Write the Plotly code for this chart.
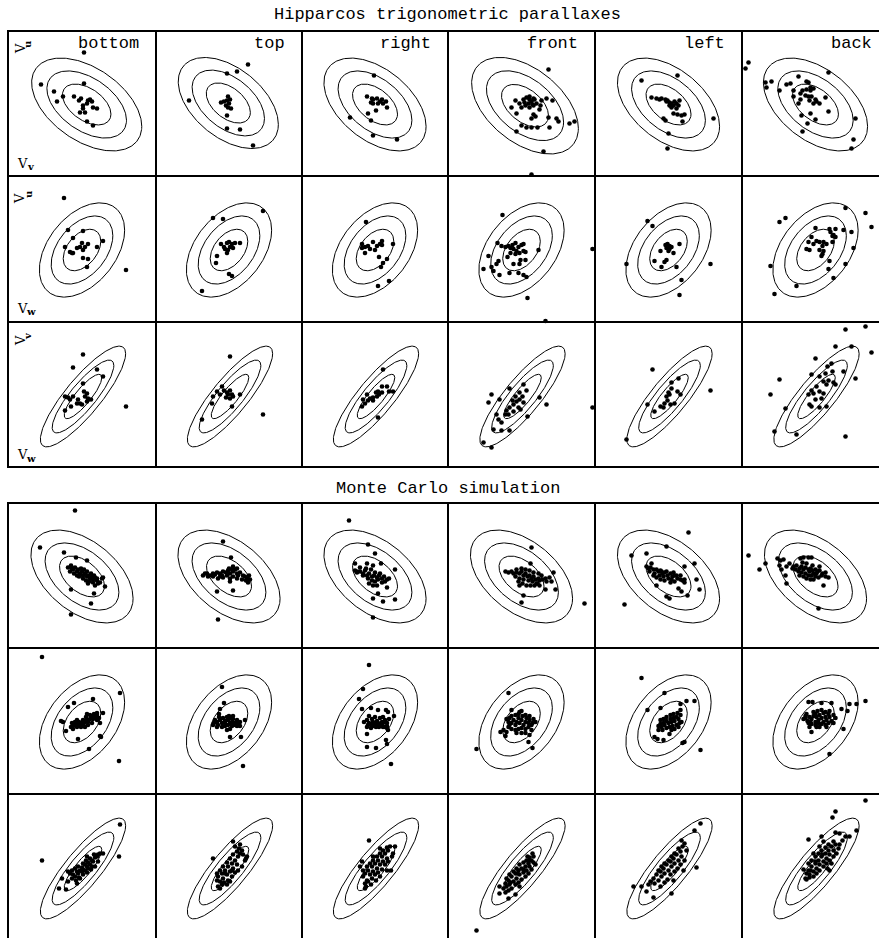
import numpy as np
import plotly.graph_objects as go

W, H = 879, 938

subsamples = ["bottom", "top", "right", "front", "left", "back"]

# probability contours of a 2-D Gaussian: 68.3 %, 95.4 %, 99.73 %
levels = [1.515, 2.486, 3.439]

# velocity-ellipse parameters for each panel row (horizontal sigma, vertical sigma, correlation)
row_sigma_x = [14.85, 12.4, 12.4]
row_sigma_y = [13.5, 13.7, 14.65]
row_rho = [-0.47, 0.42, 0.85]
row_center_x = [0.0, 0.0, 1.0]
row_center_y = [-1.0, -1.0, -2.0]

# subsample-specific ellipse corrections for the Hipparcos V_v-V_u row
hip_vu_shift_x = [4.7, -0.7, 0.0, 3.5, 0.0, 0.0]
hip_vu_shift_y = [0.0, 1.5, 0.0, -1.2, 0.0, 0.0]
hip_vu_scale_x = [1.078, 0.98, 1.0, 1.045, 1.0, 1.02]
hip_vu_scale_y = [1.0, 0.98, 1.0, 1.04, 1.0, 1.0]

# ---------------- Hipparcos trigonometric parallaxes ----------------
# row 1: V_v (horizontal) vs V_u (vertical)
hip_vu_bottom = [(2, 51), (-41, 19), (-28, 12), (-19, 7), (-25, 2), (-8, 7), (-3, 3), (-1, 5), (2, 20),
                 (6, 3), (8, 4), (10, 2), (5, 0), (11, -4), (15, -5), (1, -5), (-2, -9), (3, -9), (1, -2),
                 (5, -18), (11, -22)]
hip_vu_top = [(19, 39), (8, 32), (-2, 30), (-40, 3), (-1, 7), (1, 4), (-2, 3), (-5, 2), (-8, 1), (0, 0),
              (-3, -2), (2, -5), (-1, -4), (-2, -12), (-2, -25), (11, -26), (24, -42)]
hip_vu_right = [(-1, 28), (-8, 7), (-3, 5), (-2, 4), (2, 5), (5, 2), (7, 4), (-2, 0), (-4, 1), (3, 0),
                (8, 0), (11, 2), (12, -4), (1, -7), (-7, -10), (-25, -14), (-4, -17), (-2, -32), (22, -36)]
hip_vu_front = [(27, 34), (-6, 3), (-2, 0), (2, 4), (5, 6), (8, 7), (12, 5), (10, 2), (13, 4), (7, 0),
                (4, -2), (12, -2), (15, 0), (20, 3), (25, 5), (31, 3), (19, -2), (-10, -4), (0, -4),
                (8, -4), (18, -6), (-5, -10), (12, -11), (14, -13), (10, -15), (27, -14), (35, -15),
                (0, -22), (5, -24), (10, -24), (16, -24), (28, -24), (37, -18), (48, -20), (53, -18),
                (-5, -28), (22, -48), (10, -71), (3, 1), (8, 4), (11, -1)]
hip_vu_left = [(9, 28), (-27, 23), (-17, 6), (-12, 5), (-9, 4), (-7, 5), (-3, 4), (-1, 3), (-2, 2), (1, 1),
               (3, 0), (1, -2), (5, -2), (8, 0), (10, -2), (6, 2), (11, 3), (3, -4), (8, -5), (5, -10),
               (9, -11), (13, -12), (16, -11), (-5, -15), (-3, -17), (14, -18), (45, -15), (0, -30),
               (-1, -45)]
hip_vu_back = [(-70, 35), (-67, 41), (13, 31), (-50, 21), (-49, 16), (-44, 22), (-29, 19), (-25, 20),
               (-17, 27), (-9, 22), (-7, 21), (-22, 13), (-15, 10), (-13, 13), (-9, 14), (-5, 16), (-2, 15),
               (-5, 13), (-10, 8), (-7, 7), (-4, 7), (0, 4), (1, 2), (4, 0), (-2, 0), (-6, 3), (-15, 4),
               (-17, 0), (-22, 7), (-36, 13), (10, 6), (13, -8), (-14, -12), (-5, -10), (0, -16),
               (-8, -20), (-13, -28), (40, -15), (38, -36), (36, -45)]

# row 2: V_w (horizontal) vs V_u (vertical)
hip_wu_bottom = [(-18, 51), (-14, 19), (1, 18), (-9, 11), (-17, 2), (-12, -3), (-9, -4), (-5, 1), (-2, 2),
                 (0, 6), (3, 2), (6, 5), (1, -1), (15, 2), (21, 8), (1, -9), (6, -10), (5, -18), (44, -21),
                 (-10, -4)]
hip_wu_top = [(-16, 31), (-6, 30), (34, 38), (-8, 5), (-5, 2), (-2, 6), (0, 7), (3, 5), (1, 2), (4, 1),
              (6, 6), (11, 6), (-1, -1), (-4, 0), (-2, -4), (-12, -7), (-13, -14), (0, -25), (3, -27),
              (-27, -42)]
hip_wu_right = [(-9, 27), (-13, 5), (-10, 2), (-7, 3), (-13, 1), (-10, -4), (-5, 0), (-2, 7), (0, -1),
                (2, 3), (5, 5), (7, 8), (7, 4), (18, 5), (4, -8), (12, -10), (8, -14), (6, -18), (3, -37),
                (14, -32)]
hip_wu_front = [(-19, 34), (-24, 6), (-20, 3), (-16, 2), (-13, 3), (-11, 1), (-9, 4), (-6, 6), (-8, 0),
                (-5, -2), (-3, 2), (0, 4), (2, 5), (2, -2), (4, -3), (-2, -4), (-6, -5), (-11, -4),
                (-14, -8), (17, -1), (-33, -7), (-23, -12), (-25, -15), (-30, -18), (-38, -20), (-28, -22),
                (-22, -26), (-12, -24), (-8, -15), (-1, -11), (-2, -15), (4, -11), (-3, -24), (2, -26),
                (5, -28), (6, -49), (24, -72), (71, 0)]
hip_wu_left = [(-21, 28), (-16, 23), (-42, -15), (-1, 5), (1, 3), (-2, 1), (1, 0), (0, -2), (3, 2),
               (-3, 4), (11, 5), (-8, -2), (5, -4), (-14, -12), (-2, -11), (-4, -13), (-7, -18), (8, -18),
               (42, -15), (13, -31), (11, -46)]
hip_wu_back = [(-36, 27), (-30, 31), (50, 36), (56, 22), (30, 41), (0, 21), (14, 20), (20, 20), (15, 17),
               (18, 14), (20, 12), (17, 13), (28, 19), (36, 17), (-4, 12), (-7, 7), (-2, 5), (1, 8), (4, 7),
               (8, 7), (11, 5), (7, 3), (-9, 0), (-6, -1), (4, -1), (8, -2), (17, 7), (6, -7), (14, -12),
               (-45, -17), (13, -20), (30, -15), (38, 1), (18, -29), (-19, -37), (-41, -45), (7, -5)]

# row 3: V_w (horizontal) vs V_v (vertical)
hip_wv_bottom = [(1, 40), (-9, 27), (15, 25), (21, 18), (1, 11), (-17, -2), (-14, -3), (-12, -5), (-9, -2),
                 (-4, -5), (-2, -9), (2, 3), (5, 1), (3, -2), (6, -4), (5, -7), (9, -5), (-5, -9), (0, -10),
                 (-11, -12), (-17, -16), (44, -12)]
hip_wv_top = [(1, 38), (-7, 8), (-12, 3), (-9, 0), (-5, 4), (-2, 2), (1, 4), (-1, 0), (3, 0), (4, -2),
              (1, -4), (-3, -3), (11, 0), (-16, -2), (-17, -9), (3, -12), (-27, -25), (34, -20)]
hip_wv_right = [(8, 25), (-8, 0), (-12, -5), (-13, -12), (-10, -9), (-7, -6), (-5, -4), (-2, -3), (-2, -6),
                (1, 2), (3, 3), (4, 0), (2, -2), (7, 2), (7, 8), (12, 8), (14, 3), (18, 3), (3, -23)]
hip_wv_front = [(-12, 6), (-30, 0), (-33, -8), (-22, -5), (2, 10), (5, 4), (-2, 2), (-6, -2), (-9, -6),
                (-5, -7), (-2, -5), (1, -2), (2, -8), (-8, -10), (-12, -13), (-15, -16), (-16, -20),
                (-13, -20), (-8, -17), (-3, -13), (-1, -15), (18, -3), (25, -10), (6, -22), (-25, -20),
                (-23, -25), (-20, -28), (-28, -35), (-20, -36), (-12, -36), (-38, -48), (-30, -53), (71, -13)]
hip_wv_left = [(-16, 25), (10, 16), (3, 12), (3, 6), (0, 2), (-2, -2), (1, 0), (-1, -6), (-4, -9),
               (-5, -13), (-8, -12), (2, -10), (6, -9), (9, 3), (12, 0), (-14, -17), (-21, -10), (42, 4),
               (-42, -45)]
hip_wv_back = [(30, 65), (50, 68), (56, 42), (20, 48), (36, 48), (0, 36), (16, 31), (12, 28), (10, 21),
               (17, 23), (28, 23), (-4, 20), (4, 18), (8, 13), (13, 14), (18, 12), (20, 10), (11, 10),
               (1, 8), (-4, 4), (-7, 0), (-2, 1), (4, 3), (8, 1), (6, -4), (0, -5), (-6, -10), (-4, -12),
               (4, -13), (11, -12), (40, 16), (-36, 15), (-45, 0), (-30, -14), (-41, -37), (-19, -40),
               (30, -42)]

# ---------------- Monte Carlo simulation ----------------
mc_vu_bottom = [(-7, 65), (-42, 28), (-18, 23), (-6, 18), (5, 15), (-11, -14), (9, -28), (-11, -39),
                (12, -18), (23, -11), (21, -2), (-14, 8), (-11, 10), (-10, 7), (-9, 6), (-7, 8), (-5, 4),
                (-4, 6), (-2, 2), (0, 4), (1, 0), (3, 2), (5, -1), (6, 0), (8, -3), (10, -1), (11, -4),
                (13, -2), (15, -5), (-8, 2), (-3, -1), (1, -3), (4, -5), (7, -6), (11, -7), (-1, 7),
                (2, 6), (5, 4), (9, 2), (12, 0), (15, -3), (18, -7), (-5, 0), (-12, 4), (16, -8), (6, -8),
                (13, -10), (20, -3)]
mc_vu_top = [(-6, 34), (2, 18), (-12, -16), (4, -15), (18, -4), (-11, -44), (-26, 0), (-24, 2), (-22, 2),
             (-19, 0), (-16, 2), (-14, 1), (-12, 3), (-9, 2), (-7, 0), (-6, 4), (-3, 3), (-1, 5), (1, 2),
             (3, 6), (4, 4), (6, 6), (8, 2), (9, 0), (11, 3), (14, 0), (16, -1), (18, -3), (21, -4),
             (4, -1), (1, -3), (-2, 0), (-6, -2), (-9, -1), (-11, -3), (8, -3), (13, -4), (17, -5),
             (20, 0), (-16, -1), (-21, -1), (8, 7), (4, 9), (0, 7), (19, -7), (1, -6)]
mc_vu_right = [(-26, 55), (-7, 31), (0, 22), (6, 12), (-8, 12), (-2, 10), (-20, 12), (-18, 4), (20, 6),
               (12, -12), (-2, -23), (8, -26), (20, -24), (3, -18), (-2, -42), (-20, 5), (-18, 3),
               (-15, 4), (-12, 2), (-10, 5), (-8, 0), (-6, 2), (-3, -1), (-1, 0), (2, -2), (4, 0), (7, -3),
               (9, -1), (12, -4), (14, -3), (-7, -3), (-3, -5), (0, -6), (3, -4), (7, -7), (-2, -10),
               (2, -10), (-12, 0), (-15, 8), (-9, 7), (-4, 6), (0, 3), (5, 2), (10, -6), (-6, -8)]
mc_vu_front = [(10, 28), (9, 12), (32, 3), (28, -2), (30, -6), (34, -14), (24, -14), (2, -20), (0, -27),
               (63, -28), (16, -8), (-16, 4), (-13, 3), (-10, 4), (-8, 2), (-5, 3), (-2, 2), (0, 4), (2, 0),
               (4, 2), (6, -1), (8, 0), (10, -3), (12, -1), (14, -4), (17, -3), (18, -5), (21, -4), (-6, -1),
               (-2, -3), (2, -4), (7, -5), (11, -6), (15, -8), (-3, -6), (1, -8), (5, -10), (9, -10),
               (13, -10), (0, 7), (4, 6), (8, 5), (12, 3), (17, 2), (20, 0), (24, -3), (-5, 6), (-2, -10),
               (18, -10), (25, -6)]
mc_vu_left = [(20, 43), (-2, 29), (-37, 20), (-22, 22), (-17, 12), (26, 12), (16, 9), (28, -4), (31, -14),
              (13, -16), (-2, -21), (1, -23), (19, -20), (-44, -29), (10, -13), (-12, -10), (-22, 9),
              (-20, 7), (-18, 8), (-15, 6), (-12, 6), (-10, 4), (-8, 5), (-6, 2), (-4, 3), (-1, 0), (2, 2),
              (4, -1), (6, 0), (9, -3), (12, -4), (14, -5), (16, -4), (-14, 2), (-9, 0), (-5, -1), (0, -3),
              (3, -4), (6, -6), (-8, -4), (-4, -5), (2, -7), (-15, 0), (-12, -2), (-7, 4), (-2, 4), (5, 3),
              (8, 0), (12, 0), (-19, 4), (16, -7)]
mc_vu_back = [(-67, 20), (-56, 6), (-50, 12), (-38, 17), (-35, 15), (-32, 16), (-36, 10), (-34, 6),
              (-29, 9), (-26, 12), (-30, 0), (-29, -8), (-23, 7), (-15, 17), (-12, 18), (-7, 18), (-4, 18),
              (8, -10), (13, -2), (3, -33), (-13, 13), (-22, 9), (-19, 10), (-16, 7), (-14, 9), (-12, 6),
              (-10, 8), (-7, 6), (-5, 7), (-3, 5), (0, 6), (2, 4), (4, 5), (7, 2), (10, 3), (-17, 4),
              (-14, 3), (-10, 2), (-7, 0), (-4, 0), (0, -1), (3, -2), (6, 0), (-9, -3), (-5, -4), (-2, -4),
              (-12, -1), (-16, 0), (1, 2), (-3, 10), (-9, 12), (4, 9), (-20, 6), (10, -1), (-6, 4), (-2, 2)]

mc_wu_bottom = [(-40, 64), (38, 28), (37, -40), (-8, 18), (-14, 14), (11, 22), (-21, 0), (-19, -1),
                (-16, -10), (-4, -18), (7, -28), (18, -15), (19, -16), (15, 8), (17, 3), (21, 8), (18, -2),
                (-11, -6), (-9, -5), (-7, -4), (-5, -6), (-4, -2), (-2, -4), (0, -2), (1, -3), (3, -1),
                (5, 1), (6, -1), (8, 2), (10, 4), (11, 2), (13, 4), (5, 7), (8, 6), (15, 6), (-9, -8),
                (-6, -2), (-1, -6), (2, -5), (4, 4), (1, 1), (-3, -1), (-7, -1), (-10, -2), (12, 7), (15, 1),
                (6, -4), (-5, 1), (3, -6), (10, -2)]
mc_wu_top = [(-7, 34), (-5, 18), (-9, 12), (-10, 7), (-16, -4), (1, -16), (12, -16), (14, -45), (16, 1),
             (-15, -2), (-12, -1), (-11, -4), (-9, 1), (-7, -2), (-6, 3), (-4, 0), (-2, 4), (-1, 1), (1, 3),
             (3, -1), (4, 2), (6, -2), (8, 1), (9, -2), (11, -1), (-7, -6), (-4, -5), (-1, -4), (3, -5),
             (6, -4), (-2, -9), (1, -8), (-12, -6), (4, 5), (0, 5), (-10, 4), (-4, -2), (1, -2), (8, -5),
             (-14, 1), (11, -5)]
mc_wu_right = [(-6, 56), (-12, 32), (-16, 22), (-13, 12), (-4, 13), (3, 11), (11, 11), (13, 9), (19, 5),
               (-8, -13), (-8, -26), (1, -27), (11, -19), (12, -23), (16, -43), (-6, 5), (12, -5), (13, -9),
               (-11, -1), (-8, 1), (-6, -2), (-3, 2), (-2, -1), (0, -3), (2, 0), (3, -2), (5, -4), (7, -1),
               (8, -2), (10, 1), (12, -2), (-2, -5), (1, -6), (4, -6), (8, -6), (-7, -4), (-4, -7),
               (-8, -6), (8, 4), (5, 3), (0, 4), (10, -6), (12, -7), (14, 2), (-5, -3), (2, -4)]
mc_wu_front = [(-13, 28), (-45, -28), (11, -27), (7, -21), (-21, -11), (-16, -15), (0, 10), (-15, 2),
               (-13, -1), (-12, 3), (-10, -2), (-8, 1), (-6, -4), (-5, -1), (-3, 3), (-2, -2), (0, 1),
               (2, -4), (4, -1), (5, 3), (7, -2), (8, 1), (10, -4), (12, 2), (-10, 5), (-6, 6), (-3, 7),
               (1, 5), (4, 6), (8, 5), (-13, -6), (-10, -8), (-6, -9), (-3, -8), (0, -7), (4, -8), (7, -6),
               (10, -9), (-18, -9), (-15, -11), (8, -14), (0, -12), (-5, -12), (-10, 11), (11, -2),
               (14, -1), (-12, -4), (4, -12), (-2, 9)]
mc_wu_left = [(-27, 43), (-4, 28), (-21, 11), (-8, 13), (18, 20), (26, 20), (32, -29), (14, -22),
              (12, 17), (12, 11), (-10, -9), (-14, -16), (-11, -18), (-5, -19), (1, -13), (16, -21),
              (-10, -5), (-8, -3), (-7, -6), (-5, -2), (-4, -4), (-2, 0), (0, -2), (2, 2), (3, -1), (5, 3),
              (6, 0), (8, 4), (10, 2), (12, 6), (-6, -9), (-2, -7), (1, -6), (4, -5), (8, -4), (11, -2),
              (2, 6), (5, 7), (9, 8), (-2, 4), (-5, 2), (13, -1), (3, -9), (-8, 1), (6, -8), (10, -6)]
mc_wu_back = [(50, 20), (41, 17), (34, 17), (32, 10), (26, 12), (28, -8), (14, -33), (-7, 19), (-3, 19),
              (6, 18), (16, 18), (-10, 5), (-12, 2), (-4, -11), (18, -2), (-10, 3), (-8, 0), (-6, 4),
              (-4, 2), (-2, 5), (0, -1), (1, 4), (3, 1), (4, 6), (6, 3), (8, -1), (10, 4), (11, 1), (13, 7),
              (14, 4), (16, 0), (-7, -2), (-4, -3), (0, -4), (3, -2), (6, -3), (10, -4), (13, -2), (-2, 9),
              (2, 10), (6, 11), (10, 9), (14, 10), (18, 6), (-9, 7), (-6, -6), (1, -6), (11, -6), (20, 3),
              (4, -6), (8, 8), (-5, -1), (0, 7)]

mc_wv_bottom = [(-40, 6), (38, 42), (37, 10), (-20, -12), (-23, -22), (-16, -23), (-14, -5), (21, 13),
                (-10, -12), (-9, -8), (-7, -10), (-5, -5), (-4, -7), (-2, -4), (0, -1), (1, -3), (3, 2),
                (5, 0), (6, 4), (8, 2), (10, 6), (11, 5), (13, 9), (15, 10), (18, 13), (-10, -4), (-7, -2),
                (-4, 0), (1, 3), (4, 6), (8, 8), (12, 12), (-6, -14), (-3, -11), (1, -8), (5, -6), (9, -3),
                (13, 0), (16, 5), (-12, -7), (0, -5), (3, -4), (6, -2), (10, 0), (-5, -17), (-14, -15),
                (16, 12), (5, 10), (-2, -12)]
mc_wv_top = [(-16, 8), (4, 25), (11, 22), (17, 8), (-11, -20), (-9, -22), (-12, -14), (-11, -10),
             (-9, -15), (-7, -7), (-6, -12), (-4, -4), (-2, -8), (-1, 0), (1, -5), (3, 3), (4, -2), (6, 6),
             (8, 2), (9, 10), (11, 13), (13, 16), (-9, -4), (-6, 0), (-2, 4), (1, 8), (4, 12), (8, 15),
             (-7, -18), (-5, -16), (-1, -14), (3, -10), (6, -6), (9, -4), (13, 0), (16, 6), (14, 12),
             (-12, -7), (-4, -7), (3, -4), (6, 20), (10, 18), (18, 10), (-2, -18), (1, -15)]
mc_wv_right = [(-6, 26), (-13, 5), (-15, 0), (-9, -20), (16, -4), (20, 20), (18, 13), (-12, -10),
               (-10, -7), (-8, -14), (-7, -4), (-5, -8), (-3, 0), (-2, -5), (0, 3), (2, -2), (3, 6), (5, 2),
               (7, 10), (8, 5), (10, 13), (12, 8), (13, 16), (15, 20), (-8, 0), (-5, 3), (-2, 6), (2, 10),
               (5, 13), (8, 16), (12, 19), (-10, -17), (-7, -15), (-3, -12), (0, -8), (3, -6), (7, -3),
               (10, 2), (13, 5), (17, 10), (-12, -4), (-4, -18), (1, -14), (5, -10), (12, -4), (-10, -22),
               (-2, 10), (5, 18)]
mc_wv_front = [(-45, -64), (-22, -27), (-13, -32), (-6, -28), (6, 10), (11, 13), (-18, -22), (-16, -17),
               (-15, -20), (-13, -14), (-12, -18), (-10, -10), (-8, -15), (-6, -7), (-5, -12), (-3, -4),
               (-2, -8), (0, -2), (2, -6), (4, 0), (5, -4), (7, 3), (8, 0), (10, 6), (12, 4), (-15, -12),
               (-12, -8), (-8, -5), (-5, -2), (-2, 2), (2, 4), (5, 6), (8, 9), (-13, -24), (-10, -22),
               (-6, -18), (-3, -16), (0, -13), (4, -10), (7, -7), (10, -3), (14, 2), (-16, -26), (-11, -16),
               (-4, -7), (2, -3), (8, 6), (-22, -20), (-2, -20), (12, 10)]
mc_wv_left = [(32, 43), (26, 36), (28, -1), (3, -27), (-35, -20), (-27, -20), (-15, -31), (-22, -25),
              (-20, -18), (-18, -15), (-15, -12), (-14, -17), (-12, -8), (-10, -14), (-8, -5), (-7, -10),
              (-5, -2), (-4, -7), (-2, 2), (0, -4), (2, 5), (3, 0), (5, 8), (6, 3), (8, 12), (10, 6),
              (12, 15), (13, 10), (14, 20), (16, 23), (18, 16), (-10, -4), (-7, 0), (-4, 3), (0, 6),
              (3, 10), (6, 13), (10, 18), (-8, -20), (-4, -16), (-1, -13), (2, -8), (6, -5), (9, -2),
              (12, 2), (16, 6), (5, -14), (15, -4), (13, 26)]
mc_wv_back = [(50, 66), (20, 55), (17, 49), (41, 36), (-7, 27), (34, 30), (30, 30), (27, 26), (6, 30),
              (8, 25), (20, 34), (24, 33), (14, -4), (-10, -12), (18, 16), (-9, -7), (-7, -4), (-6, -8),
              (-4, 0), (-2, -5), (0, 3), (1, -2), (3, 6), (4, 2), (6, 10), (8, 5), (10, 13), (11, 8),
              (13, 16), (14, 12), (16, 20), (18, 25), (20, 22), (-7, 3), (-4, 6), (0, 10), (3, 13), (6, 16),
              (10, 19), (13, 22), (-9, -13), (-6, -11), (-2, -10), (1, -7), (4, -4), (8, 0), (11, 3),
              (14, 6), (18, 10), (21, 13), (23, 18), (-5, -4), (0, 5), (7, 12), (12, -2), (-2, 13), (4, 20),
              (16, 3), (24, 22), (-12, -3)]

blocks = [
    [[hip_vu_bottom, hip_vu_top, hip_vu_right, hip_vu_front, hip_vu_left, hip_vu_back],
     [hip_wu_bottom, hip_wu_top, hip_wu_right, hip_wu_front, hip_wu_left, hip_wu_back],
     [hip_wv_bottom, hip_wv_top, hip_wv_right, hip_wv_front, hip_wv_left, hip_wv_back]],
    [[mc_vu_bottom, mc_vu_top, mc_vu_right, mc_vu_front, mc_vu_left, mc_vu_back],
     [mc_wu_bottom, mc_wu_top, mc_wu_right, mc_wu_front, mc_wu_left, mc_wu_back],
     [mc_wv_bottom, mc_wv_top, mc_wv_right, mc_wv_front, mc_wv_left, mc_wv_back]],
]

# panel frame edges in page pixels
col_edges = [8, 156, 302, 448, 595, 742, 889]
row_edges = [[31, 176, 322, 467], [503, 648, 794, 939]]

fig = go.Figure()
t = np.linspace(0, 2 * np.pi, 240)
idx = 0
for b in range(2):
    for r in range(3):
        top, bot = row_edges[b][r], row_edges[b][r + 1]
        for c in range(6):
            sx, sy, rho = row_sigma_x[r], row_sigma_y[r], row_rho[r]
            cx, cy = row_center_x[r], row_center_y[r]
            if b == 0 and r == 0:
                cx += hip_vu_shift_x[c]
                cy += hip_vu_shift_y[c]
                sx *= hip_vu_scale_x[c]
                sy *= hip_vu_scale_y[c]
            left, right = col_edges[c], col_edges[c + 1]
            idx += 1
            sfx = "" if idx == 1 else str(idx)
            hw, hh = (right - left) / 2, (bot - top) / 2
            vis_r, vis_b = min(right, W), min(bot, H)
            fig.layout["xaxis" + sfx] = dict(domain=[left / W, vis_r / W],
                                             range=[-hw, vis_r - left - hw],
                                             visible=False, fixedrange=True)
            fig.layout["yaxis" + sfx] = dict(domain=[1 - vis_b / H, 1 - top / H],
                                             range=[hh - (vis_b - top), hh],
                                             visible=False, fixedrange=True)
            for k in levels:
                ex = cx + k * sx * np.cos(t)
                ey = cy + k * sy * (rho * np.cos(t) + np.sqrt(1 - rho ** 2) * np.sin(t))
                fig.add_trace(go.Scatter(x=ex, y=ey, mode="lines",
                                         line=dict(color="black", width=1),
                                         xaxis="x" + sfx, yaxis="y" + sfx,
                                         hoverinfo="skip", showlegend=False))
            pts = blocks[b][r][c]
            fig.add_trace(go.Scatter(x=[p[0] for p in pts], y=[p[1] for p in pts],
                                     mode="markers", cliponaxis=False,
                                     marker=dict(color="black", size=4.6),
                                     xaxis="x" + sfx, yaxis="y" + sfx,
                                     showlegend=False))
            fig.add_shape(type="rect", xref="paper", yref="paper",
                          x0=left / W, x1=right / W, y0=1 - bot / H, y1=1 - top / H,
                          line=dict(color="black", width=2), layer="above")

font_title = dict(family="Liberation Mono", size=17, color="black")
ann = [
    dict(text="Hipparcos trigonometric parallaxes", x=448 / W, y=1 - 14 / H),
    dict(text="Monte Carlo simulation", x=448 / W, y=1 - 488 / H),
]
for a in ann:
    a.update(xref="paper", yref="paper", showarrow=False, font=font_title,
             xanchor="center", yanchor="middle")

for c, name in enumerate(subsamples):
    ann.append(dict(text=name, x=(col_edges[c + 1] - 15) / W, y=1 - 44 / H,
                    xref="paper", yref="paper", showarrow=False,
                    xanchor="right", yanchor="middle", font=font_title))

# velocity-component labels on the first column: letter V plus its subscript
v_font = dict(family="DejaVu Serif", size=13, color="black")
s_font = dict(family="DejaVu Serif", size=10, color="black", weight="bold")
vert_labels = [("u", 49), ("u", 199), ("v", 341)]
horiz_labels = [("v", 163), ("w", 308), ("w", 455)]


def add_text(text, x, y, font, angle=0):
    ann.append(dict(text=text, x=x / W, y=1 - y / H, textangle=angle,
                    xref="paper", yref="paper", showarrow=False,
                    xanchor="center", yanchor="middle", font=font))


for sub, y in vert_labels:
    add_text("V", 20, y, v_font, -90)
    add_text(sub, 28, y - 5, s_font, -90)
for sub, y in horiz_labels:
    add_text("V", 22, y, v_font)
    add_text(sub, 31, y + 3, s_font)

fig.update_layout(width=W, height=H, margin=dict(l=0, r=0, t=0, b=0),
                  paper_bgcolor="white", plot_bgcolor="white",
                  annotations=ann, showlegend=False)

fig.write_html("out.html")
